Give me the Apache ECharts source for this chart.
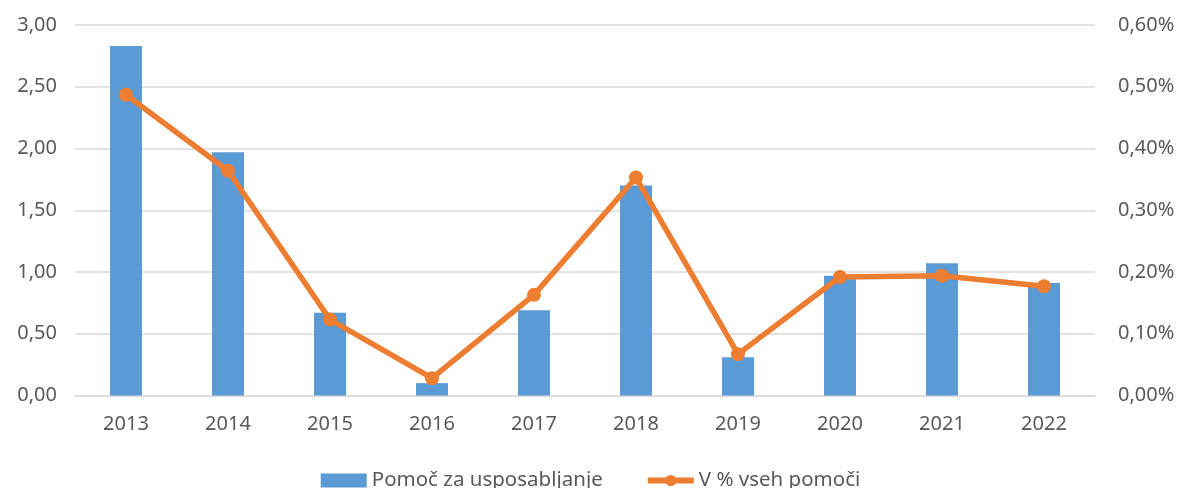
<!DOCTYPE html>
<html>
<head>
<meta charset="utf-8">
<script src="https://cdn.jsdelivr.net/npm/echarts@6/dist/echarts.min.js"></script>
<style>
  html, body { margin: 0; padding: 0; background: #fff; }
  #chart { width: 1181px; height: 488px; }
</style>
</head>
<body>
<div id="chart"></div>
<script>
// leta
var years = ['2013', '2014', '2015', '2016', '2017', '2018', '2019', '2020', '2021', '2022']
// Pomoč za usposabljanje
var pomoc = [2.83, 1.97, 0.67, 0.10, 0.69, 1.70, 0.31, 0.97, 1.07, 0.91]
// V % vseh pomoči
var delez = [0.487, 0.364, 0.123, 0.028, 0.163, 0.353, 0.067, 0.192, 0.194, 0.177]

var font = '"Noto Sans", "Open Sans", sans-serif'
var myChart = echarts.init(document.getElementById('chart'))
var option = {
  animation: false,
  textStyle: { fontFamily: font },
  grid: { left: 75, right: 86, top: 25, bottom: 92.5 },
  legend: {
    bottom: -8,
    left: 'center',
    itemGap: 42,
    itemWidth: 46,
    itemHeight: 14,
    textStyle: { color: '#595959', fontSize: 20.5, fontFamily: font },
    data: [
      { name: 'Pomoč za usposabljanje', icon: 'rect' },
      { name: 'V % vseh pomoči', lineStyle: { width: 6 } }
    ]
  },
  xAxis: {
    type: 'category',
    data: years,
    axisLine: { lineStyle: { color: '#d9d9d9', width: 1.5 } },
    axisTick: { show: false },
    axisLabel: { color: '#595959', fontSize: 20, margin: 19 }
  },
  yAxis: [
    {
      type: 'value',
      min: 0,
      max: 3,
      interval: 0.5,
      axisLabel: {
        color: '#595959',
        fontSize: 20,
        margin: 18,
        formatter: function (v) { return v.toFixed(2).replace('.', ',') }
      },
      axisLine: { show: false },
      axisTick: { show: false },
      splitLine: { lineStyle: { color: '#d9d9d9', width: 1.5 } }
    },
    {
      type: 'value',
      min: 0,
      max: 0.6,
      interval: 0.1,
      axisLabel: {
        color: '#595959',
        fontSize: 20,
        margin: 23,
        formatter: function (v) { return v.toFixed(2).replace('.', ',') + '%' }
      },
      axisLine: { show: false },
      axisTick: { show: false },
      splitLine: { show: false }
    }
  ],
  series: [
    {
      name: 'Pomoč za usposabljanje',
      type: 'bar',
      data: pomoc,
      barWidth: 32,
      itemStyle: { color: '#5b9bd5' }
    },
    {
      name: 'V % vseh pomoči',
      type: 'line',
      yAxisIndex: 1,
      data: delez,
      symbol: 'circle',
      symbolSize: 14,
      lineStyle: { color: '#ed7d31', width: 5.5 },
      itemStyle: { color: '#ed7d31' }
    }
  ]
}
myChart.setOption(option)
</script>
</body>
</html>
